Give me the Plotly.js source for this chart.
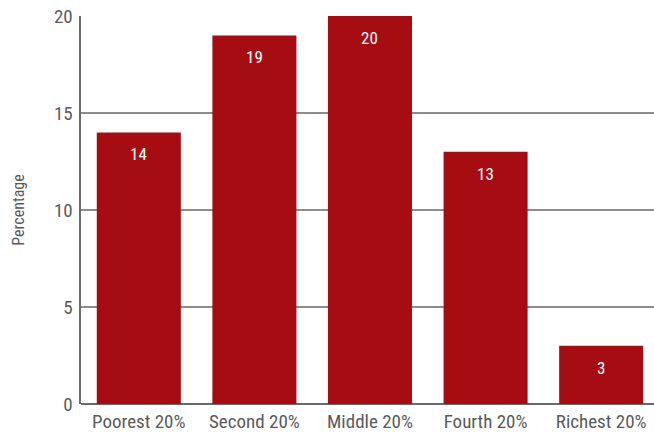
<!DOCTYPE html>
<html>
<head>
<meta charset="utf-8">
<script src="https://cdn.plot.ly/plotly-3.0.1.min.js"></script>
<style>html,body{margin:0;padding:0;background:#fff;}#chart{width:654px;height:432px;}</style>
</head>
<body>
<div id="chart"></div>
<script>
const categories = ["Poorest 20%", "Second 20%", "Middle 20%", "Fourth 20%", "Richest 20%"];
const values = [14, 19, 20, 13, 3];
const yTicks = [0, 5, 10, 15, 20];

const FONT = "'Liberation Sans Narrow', 'Roboto Condensed', 'Arial Narrow', Roboto, sans-serif";
const RED = "#a50d12";

const annotations = categories.map((c, i) => ({
  x: c, y: values[i], xref: "x", yref: "y",
  text: String(values[i]), showarrow: false,
  yanchor: "middle", yshift: -22,
  font: {family: FONT, size: 17, color: "#ffffff"}
}));

Plotly.newPlot("chart", [{
  type: "bar", x: categories, y: values,
  marker: {color: RED},
  hoverinfo: "none"
}], {
  width: 654, height: 432,
  margin: {l: 81, r: 0, t: 16, b: 28},
  paper_bgcolor: "#ffffff", plot_bgcolor: "#ffffff",
  bargap: 0.273,
  showlegend: false,
  font: {family: FONT, color: "#555555"},
  xaxis: {
    range: [-0.5, 4.457], showgrid: false, zeroline: false,
    showline: false, ticks: "", tickfont: {size: 19, color: "#5a5a5a"},
    ticklabelstandoff: 4,
    fixedrange: true
  },
  yaxis: {
    range: [0, 20], tickvals: yTicks, ticktext: yTicks.map(String),
    showgrid: true, gridcolor: "#8c8c8c", gridwidth: 1.5,
    zeroline: true, zerolinecolor: "#6a6a6a", zerolinewidth: 2.5,
    showline: true, linecolor: "#6a6a6a", linewidth: 2.5,
    ticks: "", ticklen: 0, tickfont: {size: 19, color: "#5a5a5a"},
    ticklabelstandoff: 2,
    title: {text: "Percentage", font: {size: 16, color: "#5a5a5a"}, standoff: 26},
    fixedrange: true
  },
  annotations: annotations
}, {displayModeBar: false, staticPlot: true});
</script>
</body>
</html>
